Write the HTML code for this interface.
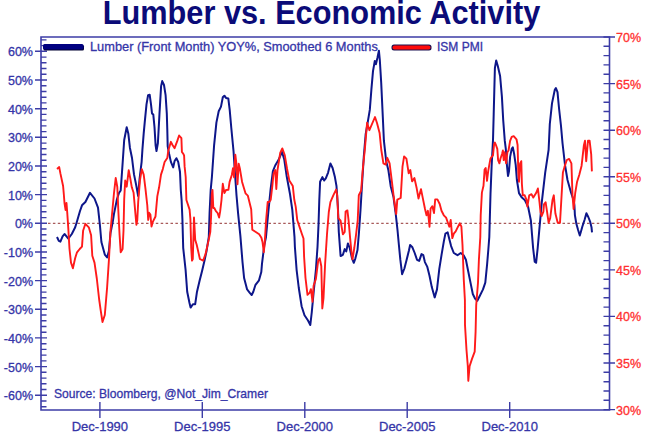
<!DOCTYPE html>
<html><head><meta charset="utf-8"><style>
html,body{margin:0;padding:0;background:#fff;}
body{width:649px;height:439px;position:relative;overflow:hidden;font-family:"Liberation Sans",sans-serif;}
.t{position:absolute;left:-2.6px;top:-4.8px;width:649px;text-align:center;font-weight:bold;font-size:32.5px;color:#0b0b78;white-space:nowrap;transform:scaleX(0.945);}
.ll{position:absolute;right:616px;font-size:12.5px;color:#3535a8;-webkit-text-stroke:0.3px #3535a8;line-height:15px;white-space:nowrap;}
.rl{position:absolute;left:616px;font-size:12.5px;color:#ff3030;-webkit-text-stroke:0.3px #ff3030;line-height:15px;white-space:nowrap;}
.bl{position:absolute;top:418.6px;width:80px;text-align:center;font-size:13px;color:#3535a8;-webkit-text-stroke:0.3px #3535a8;line-height:15px;white-space:nowrap;}
.lg{position:absolute;font-size:11.5px;color:#3535a8;-webkit-text-stroke:0.3px #3535a8;line-height:14px;white-space:nowrap;}
</style></head><body>
<div class="t">Lumber vs. Economic Activity</div>
<svg width="649" height="439" viewBox="0 0 649 439" style="position:absolute;left:0;top:0"><path d="M41,37 H609.5 V410 H41 Z" fill="none" stroke="#3c3ca6" stroke-width="1.6"/><path d="M41,406.7H46.5M41,401.0H46.5M35,395.3H47M41,389.5H46.5M41,383.8H46.5M41,378.1H46.5M41,372.3H46.5M35,366.6H47M41,360.9H46.5M41,355.1H46.5M41,349.4H46.5M41,343.7H46.5M35,337.9H47M41,332.2H46.5M41,326.5H46.5M41,320.7H46.5M41,315.0H46.5M35,309.3H47M41,303.5H46.5M41,297.8H46.5M41,292.1H46.5M41,286.4H46.5M35,280.6H47M41,274.9H46.5M41,269.2H46.5M41,263.4H46.5M41,257.7H46.5M35,252.0H47M41,246.2H46.5M41,240.5H46.5M41,234.8H46.5M41,229.0H46.5M35,223.3H47M41,217.6H46.5M41,211.8H46.5M41,206.1H46.5M41,200.4H46.5M35,194.6H47M41,188.9H46.5M41,183.2H46.5M41,177.4H46.5M41,171.7H46.5M35,166.0H47M41,160.2H46.5M41,154.5H46.5M41,148.8H46.5M41,143.1H46.5M35,137.3H47M41,131.6H46.5M41,125.9H46.5M41,120.1H46.5M41,114.4H46.5M35,108.7H47M41,102.9H46.5M41,97.2H46.5M41,91.5H46.5M41,85.7H46.5M35,80.0H47M41,74.3H46.5M41,68.5H46.5M41,62.8H46.5M41,57.1H46.5M35,51.3H47M41,45.6H46.5M41,39.9H46.5M615.0,409.6H603.5M603.5,400.3H609.5M603.5,391.0H609.5M603.5,381.7H609.5M603.5,372.3H609.5M615.0,363.0H603.5M603.5,353.7H609.5M603.5,344.4H609.5M603.5,335.1H609.5M603.5,325.8H609.5M615.0,316.4H603.5M603.5,307.1H609.5M603.5,297.8H609.5M603.5,288.5H609.5M603.5,279.2H609.5M615.0,269.9H603.5M603.5,260.6H609.5M603.5,251.2H609.5M603.5,241.9H609.5M603.5,232.6H609.5M615.0,223.3H603.5M603.5,214.0H609.5M603.5,204.7H609.5M603.5,195.4H609.5M603.5,186.0H609.5M615.0,176.7H603.5M603.5,167.4H609.5M603.5,158.1H609.5M603.5,148.8H609.5M603.5,139.5H609.5M615.0,130.2H603.5M603.5,120.8H609.5M603.5,111.5H609.5M603.5,102.2H609.5M603.5,92.9H609.5M615.0,83.6H603.5M603.5,74.3H609.5M603.5,64.9H609.5M603.5,55.6H609.5M603.5,46.3H609.5M615.0,37.0H603.5M99.9,402V418M202.3,402V418M304.8,402V418M407.2,402V418M509.7,402V418" stroke="#3c3ca6" stroke-width="1.4" fill="none"/><path d="M48,223.3H602.5" stroke="#a85a5a" stroke-width="1.3" stroke-dasharray="2.5,2.4" fill="none"/><polyline points="57.0,237.0 58.8,240.9 60.4,241.6 62.6,236.4 64.5,234.0 66.5,236.4 68.3,238.6 71.8,234.0 75.2,227.3 77.4,220.0 80.0,211.0 82.0,205.3 85.4,202.0 90.0,192.8 94.5,198.5 98.0,207.6 100.0,226.0 101.4,242.0 104.8,254.6 107.1,257.5 108.9,251.0 110.5,233.0 112.8,221.6 113.9,214.4 117.0,199.0 119.0,193.0 120.7,190.5 122.5,165.0 124.2,140.0 126.7,127.2 128.3,133.4 129.9,147.7 132.0,158.0 134.0,174.4 136.1,184.6 138.1,195.9 139.6,178.5 141.6,162.1 142.4,149.9 143.7,133.4 144.7,122.6 146.5,104.3 148.1,95.2 149.7,94.8 151.0,104.3 152.0,113.4 153.3,114.6 154.5,127.1 155.6,145.3 156.5,151.0 157.9,143.0 159.5,113.4 161.1,86.1 162.2,81.1 164.0,85.0 165.6,95.2 166.8,113.4 167.3,130.0 167.7,146.4 169.1,153.7 170.9,161.9 173.2,167.4 174.6,161.0 176.4,158.2 178.2,161.9 180.0,172.0 180.8,190.0 181.6,200.0 182.4,219.0 183.2,247.8 185.6,270.0 187.2,291.7 189.5,303.0 190.6,307.6 192.9,304.2 195.2,304.2 197.0,291.7 199.7,280.3 202.0,271.2 204.7,259.8 206.6,250.7 208.8,237.0 209.6,212.6 210.7,189.8 211.9,177.0 214.1,145.3 216.4,122.6 218.7,111.2 221.0,106.6 222.8,97.3 224.4,95.7 226.0,97.9 228.3,98.4 229.7,109.8 231.3,128.0 233.5,150.8 235.1,175.0 236.5,195.2 238.1,213.4 240.4,236.2 242.5,262.0 244.1,278.0 247.1,289.4 249.8,292.8 251.7,295.0 253.3,291.7 255.5,284.8 259.0,280.3 261.3,272.0 262.0,263.6 264.3,245.3 266.0,237.0 268.3,212.2 270.6,189.4 272.9,171.2 275.2,165.5 278.6,159.8 282.0,151.8 284.3,159.8 286.6,175.7 290.0,194.0 292.3,209.9 294.5,237.0 294.9,247.0 296.6,269.8 298.8,288.0 301.6,306.2 304.5,315.3 308.0,320.5 310.3,325.0 311.8,312.0 313.6,292.6 315.9,269.8 317.5,247.0 318.5,225.0 319.3,200.0 320.1,181.7 322.4,177.1 324.2,180.5 325.8,178.3 328.1,172.6 330.4,163.4 332.6,168.0 334.9,177.1 336.5,186.2 337.9,206.7 338.8,232.0 340.6,256.0 342.9,254.8 344.7,249.1 346.3,251.4 347.9,243.4 349.7,248.0 352.0,258.3 353.8,262.8 355.4,258.3 357.5,250.0 359.0,232.0 360.5,210.0 362.3,180.0 363.8,156.6 365.7,133.8 367.5,123.6 369.8,109.9 371.4,89.4 373.0,71.2 374.8,60.9 375.9,64.3 377.5,57.5 378.9,50.7 379.8,59.8 381.2,82.6 382.8,116.7 383.9,140.7 386.2,161.2 388.4,170.3 390.7,186.2 393.5,197.0 395.7,213.6 397.5,230.0 398.9,245.0 400.3,259.4 402.1,274.2 404.4,268.5 406.7,259.4 409.0,250.3 410.1,245.0 412.4,247.3 414.7,253.0 417.0,259.8 419.2,260.9 421.5,254.1 423.3,255.2 424.9,262.1 427.2,266.6 429.5,275.7 431.8,287.1 434.7,297.4 437.0,289.4 439.3,268.9 441.5,255.2 443.8,241.6 445.4,233.6 447.7,232.4 448.8,237.0 451.1,246.1 453.8,253.0 457.5,255.2 460.7,253.0 463.6,255.2 465.9,259.8 468.2,271.2 470.5,282.6 472.8,294.0 475.0,298.5 477.3,300.8 479.6,296.2 483.0,289.4 485.3,282.6 487.1,264.3 488.3,250.0 489.3,237.0 490.5,194.0 491.6,166.6 493.0,140.0 493.7,114.0 494.3,91.0 494.9,68.0 496.2,60.4 497.8,66.1 500.1,76.0 501.9,96.6 503.2,120.0 504.8,140.9 505.8,148.9 506.9,164.8 508.0,176.0 509.0,171.2 510.1,156.9 511.7,148.9 512.8,147.3 514.1,153.7 515.7,164.8 516.9,180.0 519.0,193.1 521.9,197.6 524.7,199.9 528.1,206.7 530.9,220.7 532.0,234.3 533.1,248.0 534.7,261.7 536.1,262.8 537.7,248.0 539.3,229.8 541.8,202.2 545.2,172.6 548.6,149.8 549.8,124.0 552.0,103.4 554.8,89.8 555.9,88.0 557.5,92.1 559.0,108.0 561.0,126.0 562.5,143.0 565.0,165.0 567.5,180.0 571.0,192.5 573.5,200.0 574.4,205.0 574.9,215.2 576.3,223.5 578.1,230.0 579.8,235.5 580.9,231.8 582.3,226.7 584.6,219.8 586.4,213.3 588.3,217.0 590.1,221.6 591.5,227.2 592.0,232.3" fill="none" stroke="#0d168a" stroke-width="2.0" stroke-linejoin="round"/><polyline points="57.0,168.9 59.2,167.1 60.4,173.4 63.1,186.0 63.8,194.0 64.5,203.0 65.6,210.0 66.5,203.0 67.2,212.0 68.3,228.4 69.5,249.0 71.0,262.6 72.9,268.3 75.2,258.0 77.0,252.3 79.7,249.0 82.0,246.6 83.1,230.7 85.4,223.8 88.8,227.3 91.1,235.2 92.3,255.7 94.5,262.6 96.8,278.5 99.1,299.0 100.7,310.4 102.5,322.0 104.8,315.0 107.1,287.6 108.9,260.3 110.5,230.7 111.6,219.0 113.9,194.0 115.7,178.0 117.3,187.0 118.4,212.0 119.6,235.2 120.7,252.3 122.6,249.0 123.5,230.7 124.2,199.0 125.2,180.5 126.7,186.7 128.7,170.3 130.3,178.5 131.8,187.3 133.6,192.8 135.5,214.6 136.4,224.7 137.3,220.0 138.2,201.9 140.0,180.0 141.8,169.1 143.7,174.6 145.5,189.1 147.3,205.5 148.2,220.0 149.1,212.8 150.4,214.6 151.5,226.5 152.8,221.9 155.5,216.5 157.3,196.4 159.1,187.3 161.0,174.6 162.8,169.1 164.6,162.0 167.3,158.0 168.2,151.0 170.9,141.8 172.5,145.0 174.6,148.2 177.3,140.9 179.1,135.5 181.4,138.2 181.9,151.9 183.2,153.7 184.1,155.5 184.6,166.4 185.7,177.0 186.4,200.0 189.6,209.6 190.4,219.1 191.2,247.8 192.0,260.6 192.8,259.0 194.0,217.5 195.2,239.9 196.7,244.7 199.9,259.0 203.1,260.6 205.5,254.2 208.7,239.9 210.3,231.9 211.1,215.9 211.8,194.0 212.5,190.0 213.3,208.0 214.3,208.0 215.9,211.2 217.5,212.8 219.1,217.5 220.2,211.2 221.5,200.0 222.8,183.8 224.4,193.0 226.0,190.0 228.4,189.9 229.6,181.9 231.8,175.0 233.0,168.2 234.1,177.3 235.3,154.6 236.4,163.7 237.5,184.2 238.7,163.7 239.8,168.2 242.1,181.9 245.5,193.3 247.8,195.6 251.2,209.2 252.3,229.7 255.8,232.0 259.2,234.3 261.4,237.7 262.5,242.0 263.8,252.2 264.7,243.0 266.1,220.3 267.7,202.0 269.3,202.0 270.7,199.8 272.3,186.1 273.5,174.0 275.3,170.0 276.3,189.0 277.5,170.0 280.2,153.0 282.3,148.4 284.8,155.3 287.1,169.0 289.3,180.4 292.8,186.1 294.3,199.8 295.7,206.6 297.3,220.3 299.6,227.1 301.9,234.0 303.5,238.5 304.1,256.7 305.5,278.0 307.5,294.8 309.8,292.6 310.9,289.1 312.5,301.7 313.6,285.7 315.9,278.9 318.2,260.7 319.7,258.3 321.3,266.2 322.3,308.5 323.5,298.1 325.1,264.0 327.0,234.3 328.8,212.0 330.4,202.2 333.3,195.3 336.1,189.6 337.2,195.3 338.3,218.1 340.6,220.7 342.9,234.3 344.7,232.0 345.6,211.6 347.4,210.4 348.6,220.7 350.2,238.9 351.5,252.6 352.5,259.4 354.3,248.0 356.1,234.3 357.7,220.7 358.8,195.3 361.1,190.8 362.9,168.0 364.8,150.0 365.8,138.0 367.1,122.8 369.4,130.2 375.0,117.0 377.0,123.0 379.6,133.0 381.3,150.0 383.4,163.4 385.7,164.6 387.3,157.8 389.6,163.4 391.9,181.7 394.0,199.0 396.2,214.0 397.3,199.6 400.7,198.0 402.5,166.6 404.1,156.4 406.4,158.6 408.7,173.4 410.3,170.0 412.1,181.4 414.4,178.0 416.7,188.3 418.5,198.5 421.0,189.1 422.6,197.1 424.9,208.5 426.5,215.3 427.9,210.8 429.5,226.7 430.6,208.5 432.4,206.2 434.0,213.1 435.2,199.4 437.4,199.4 439.7,204.0 441.5,210.8 443.8,215.3 446.1,217.6 447.7,222.2 449.3,226.7 450.7,219.9 452.3,238.1 453.8,233.6 455.7,231.3 458.0,226.7 459.8,223.3 461.4,226.7 462.5,245.0 463.8,280.0 464.9,300.0 465.0,325.0 466.5,350.0 467.8,366.0 468.3,380.8 469.6,366.2 472.0,358.9 474.7,351.6 475.6,331.6 476.2,305.3 478.0,282.6 478.9,259.8 480.3,237.0 480.7,215.3 481.9,192.6 483.5,185.7 484.6,169.6 485.7,168.0 487.0,180.8 488.2,171.2 489.3,164.8 490.5,158.5 491.7,156.9 493.0,155.3 494.1,144.1 494.9,142.5 496.2,145.7 497.3,148.9 498.1,160.1 499.4,163.3 500.5,158.5 502.1,153.7 502.9,150.5 503.7,160.1 504.5,152.1 506.1,163.3 507.4,152.1 508.5,150.5 510.1,140.9 511.7,136.9 513.7,136.1 516.5,139.3 517.6,145.0 518.3,172.6 519.0,181.7 520.1,163.4 521.3,161.2 521.9,184.0 522.8,195.3 524.7,195.3 526.5,199.9 527.4,206.7 529.2,195.3 531.5,194.2 533.3,197.6 536.1,193.1 537.9,188.5 539.5,202.2 540.5,212.0 541.6,216.1 543.4,211.6 544.0,204.4 545.6,202.2 547.0,211.3 548.6,222.7 550.2,218.1 552.5,199.9 553.8,195.3 555.4,213.6 557.7,222.7 560.0,222.7 561.6,195.3 562.9,172.6 564.5,166.9 566.8,160.0 569.1,158.9 571.4,163.4 572.5,195.3 573.6,209.0 575.2,193.1 577.1,181.7 579.3,174.8 581.6,165.7 583.9,145.2 585.0,140.7 586.2,161.2 588.0,140.7 589.6,140.7 591.2,154.3 591.9,171.4" fill="none" stroke="#ff1a1a" stroke-width="1.9" stroke-linejoin="round"/><rect x="43.5" y="45" width="40.5" height="5.5" rx="1.5" fill="#000030"/><rect x="43" y="44" width="40.5" height="5.5" rx="1.5" fill="#000080"/><rect x="391.5" y="44.5" width="40" height="6" rx="2.5" fill="#1a1050"/><rect x="392.5" y="45.5" width="38" height="4" rx="2" fill="#ff0a0a"/></svg>
<div class="ll" style="top:389.3px">-60%</div><div class="ll" style="top:360.6px">-50%</div><div class="ll" style="top:331.9px">-40%</div><div class="ll" style="top:303.3px">-30%</div><div class="ll" style="top:274.6px">-20%</div><div class="ll" style="top:246.0px">-10%</div><div class="ll" style="top:217.3px">0%</div><div class="ll" style="top:188.6px">10%</div><div class="ll" style="top:160.0px">20%</div><div class="ll" style="top:131.3px">30%</div><div class="ll" style="top:102.7px">40%</div><div class="ll" style="top:74.0px">50%</div><div class="ll" style="top:45.3px">60%</div><div class="rl" style="top:403.6px">30%</div><div class="rl" style="top:357.0px">35%</div><div class="rl" style="top:310.4px">40%</div><div class="rl" style="top:263.9px">45%</div><div class="rl" style="top:217.3px">50%</div><div class="rl" style="top:170.7px">55%</div><div class="rl" style="top:124.2px">60%</div><div class="rl" style="top:77.6px">65%</div><div class="rl" style="top:31.0px">70%</div><div class="bl" style="left:59.9px">Dec-1990</div><div class="bl" style="left:162.3px">Dec-1995</div><div class="bl" style="left:264.8px">Dec-2000</div><div class="bl" style="left:367.2px">Dec-2005</div><div class="bl" style="left:469.7px">Dec-2010</div>
<div class="lg" style="left:90px;top:40px;font-size:12.8px">Lumber (Front Month) YOY%, Smoothed 6 Months</div>
<div class="lg" style="left:437px;top:40px;font-size:12px">ISM PMI</div>
<div class="lg" style="left:54px;top:386.8px;font-size:12.1px">Source: Bloomberg, @Not_Jim_Cramer</div>
</body></html>
